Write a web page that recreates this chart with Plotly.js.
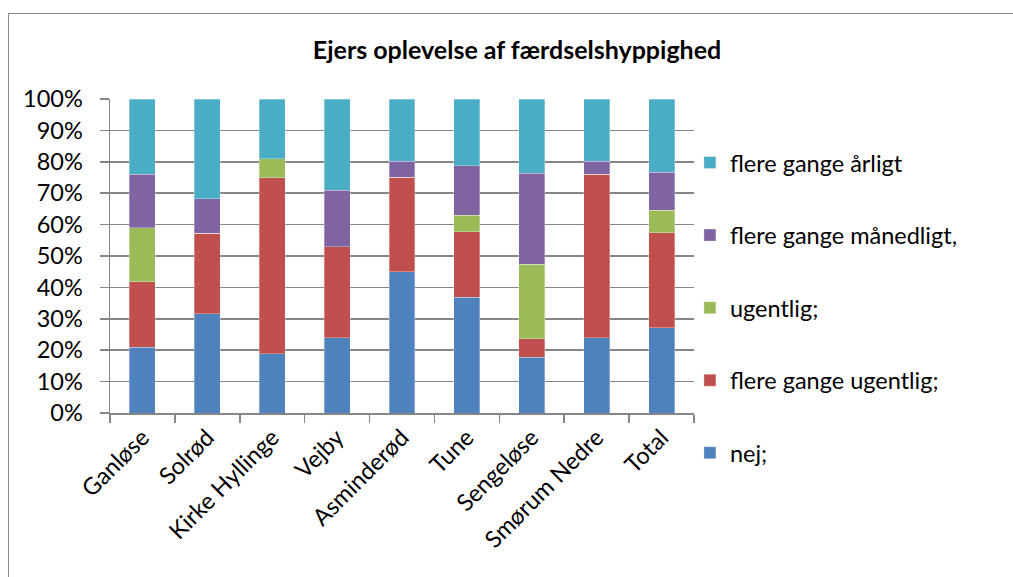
<!DOCTYPE html>
<html>
<head>
<meta charset="utf-8">
<script src="https://cdn.plot.ly/plotly-3.0.1.min.js"></script>
<style>
html,body{margin:0;padding:0;background:#fff;overflow:hidden;}
#frame{position:absolute;left:8px;top:13px;width:1100px;height:700px;border:1.5px solid #8c8c8c;pointer-events:none;}
#chart{position:absolute;left:0;top:0;width:1013px;height:577px;}
</style>
</head>
<body>
<div id="chart"></div>
<div id="frame"></div>
<script>
const categories = ["Ganløse","Solrød","Kirke Hyllinge","Vejby","Asminderød","Tune","Sengeløse","Smørum Nedre","Total"];
const seriesNames = ["nej;","flere gange ugentlig;","ugentlig;","flere gange månedligt,","flere gange årligt"];
const nej      = [20.9, 31.6, 18.9, 24.0, 45.0, 36.8, 17.7, 24.0, 27.2];
const flereUgentlig = [20.9, 25.6, 56.1, 28.9, 30.1, 21.0, 5.9, 52.0, 30.2];
const ugentlig = [17.2, 0, 6.0, 0, 0, 5.2, 23.8, 0, 7.2];
const maanedligt = [17.0, 11.1, 0, 18.1, 5.0, 15.8, 28.9, 4.1, 12.1];
const aarligt  = [24.0, 31.7, 19.0, 29.0, 19.9, 21.2, 23.7, 19.9, 23.3];
const yTicks = [0,10,20,30,40,50,60,70,80,90,100];
const yTickLabels = ["0%","10%","20%","30%","40%","50%","60%","70%","80%","90%","100%"];

const colors = ["#4F81BD","#C0504D","#9BBB59","#8064A2","#4BACC6"];
const allValues = [nej, flereUgentlig, ugentlig, maanedligt, aarligt];
const FONT = "Lato, 'Open Sans', sans-serif";
const FS = 23.5;

const traces = allValues.map((vals,i)=>({
  type:"bar",
  name: seriesNames[i],
  x: categories,
  y: vals,
  legendgroup: "g"+i,
  legendrank: 100 - i,
  marker:{color: colors[i], line:{color:"rgba(255,255,255,0.5)", width:0.6}},
  hoverinfo:"x+y+name"
}));

const layout = {
  width:1013, height:577,
  paper_bgcolor:"rgba(0,0,0,0)",
  plot_bgcolor:"rgba(0,0,0,0)",
  barmode:"stack",
  barnorm:"percent",
  bargap:0.6,
  margin:{l:110, r:319, t:99, b:164},
  font:{family:FONT, color:"#000", size:FS},
  title:{text:"<b>Ejers oplevelse af færdselshyppighed</b>", font:{family:FONT, size:25, color:"#000"},
         x:0.5104, xref:"container", xanchor:"center", y:1-50/577, yref:"container", yanchor:"middle"},
  xaxis:{
    type:"category",
    tickangle:-45,
    tickfont:{family:FONT, size:FS, color:"#000"},
    showline:true, linecolor:"#868686", linewidth:1.5,
    ticks:"outside", tickson:"boundaries", ticklen:8, tickcolor:"#868686", tickwidth:1.5,
    showgrid:false, automargin:false
  },
  yaxis:{
    range:[0,100],
    tickvals:yTicks, ticktext:yTickLabels,
    tickfont:{family:FONT, size:FS, color:"#000"},
    showline:true, linecolor:"#868686", linewidth:1.5,
    ticks:"outside", ticklen:9, tickcolor:"#868686", tickwidth:1.5,
    ticklabelstandoff:12,
    showgrid:true, gridcolor:"#868686", gridwidth:1.5,
    zeroline:false, automargin:false
  },
  legend:{
    x:0.993, xanchor:"left", y:0.867, yanchor:"top",
    traceorder:"grouped", tracegroupgap:39,
    maxheight:700,
    font:{family:FONT, size:FS, color:"#000"},
    bgcolor:"rgba(0,0,0,0)"
  },
  showlegend:true
};

Plotly.newPlot("chart", traces, layout, {displayModeBar:false, staticPlot:true});
</script>
</body>
</html>
